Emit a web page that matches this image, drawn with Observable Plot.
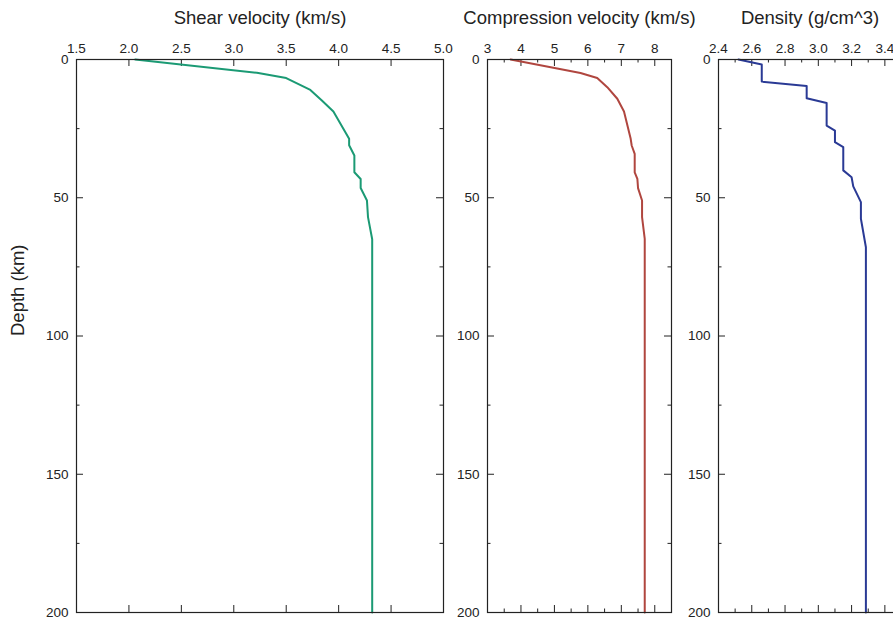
<!DOCTYPE html>
<html><head><meta charset="utf-8">
<script src="https://cdn.jsdelivr.net/npm/d3@7"></script>
<script src="https://cdn.jsdelivr.net/npm/@observablehq/plot@0.6"></script>
<style>
body{margin:0;background:#fff;}
#wrap{position:relative;width:893px;height:621px;overflow:hidden;font-family:"Liberation Sans",Arial,sans-serif;}
#wrap svg{position:absolute;top:0;max-width:none;overflow:visible;}
</style></head><body><div id="wrap"></div>
<script>
// Shear velocity profile (km/s) vs depth (km)
const shearDepth = [0, 4.8, 6.7, 11, 14.8, 18.8, 28.7, 31, 34.7, 40.8, 43.2, 46.5, 51, 57, 65, 200];
const shearVel   = [2.06, 3.22, 3.50, 3.73, 3.84, 3.95, 4.10, 4.10, 4.15, 4.15, 4.21, 4.21, 4.27, 4.28, 4.32, 4.32];
// Compression velocity profile (km/s)
const compDepth = [0, 4.9, 6.7, 10, 14.2, 18.8, 28.7, 31.1, 34.1, 40.8, 43.2, 46.5, 51, 57, 64.9, 200];
const compVel   = [3.69, 5.78, 6.28, 6.58, 6.88, 7.08, 7.28, 7.31, 7.40, 7.40, 7.48, 7.50, 7.62, 7.62, 7.70, 7.70];
// Density profile (g/cm^3)
const densDepth = [0, 1.8, 8.0, 9.6, 14, 15.7, 23.9, 25.7, 29.9, 31.7, 40.1, 42.6, 45.9, 51.6, 57.6, 67.9, 200];
const densVal   = [2.52, 2.66, 2.66, 2.93, 2.93, 3.05, 3.05, 3.10, 3.10, 3.15, 3.15, 3.20, 3.21, 3.256, 3.256, 3.286, 3.286];

// Tick labels / positions
const depthMajor = [0, 50, 100, 150, 200];
const depthMinor = [25, 75, 125, 175];
const shearMajor = [1.5, 2.0, 2.5, 3.0, 3.5, 4.0, 4.5, 5.0];
const shearMinor = [];
const compMajor = [3, 4, 5, 6, 7, 8];
const compMinor = [3.5, 4.5, 5.5, 6.5, 7.5, 8.5];
const densMajor = [2.4, 2.6, 2.8, 3.0, 3.2, 3.4];
const densMinor = [2.5, 2.7, 2.9, 3.1, 3.3, 3.5];

const titles = ["Shear velocity (km/s)", "Compression velocity (km/s)", "Density (g/cm^3)"];
const yTitle = "Depth (km)";

const H = 621, MT = 59, MB = 9;
const plotH = H - MT - MB;
const ink = "#222";

function panel({left, width, mL, mR, domain, major, minor, fmt, title, depths, values, color, ylabel}) {
  const plotW = width - mL - mR;
  const data = depths.map((d, i) => ({d, v: values[i]}));
  const marks = [
    Plot.tickX(major, {x: d => d, insetBottom: plotH - 7, stroke: ink}),
    Plot.tickX(major, {x: d => d, insetTop: plotH - 7, stroke: ink}),
    Plot.tickX(minor, {x: d => d, insetBottom: plotH - 3.5, stroke: ink}),
    Plot.tickX(minor, {x: d => d, insetTop: plotH - 3.5, stroke: ink}),
    Plot.tickY(depthMajor, {y: d => d, insetRight: plotW - 7, stroke: ink}),
    Plot.tickY(depthMajor, {y: d => d, insetLeft: plotW - 7, stroke: ink}),
    Plot.tickY(depthMinor, {y: d => d, insetRight: plotW - 3.5, stroke: ink}),
    Plot.tickY(depthMinor, {y: d => d, insetLeft: plotW - 3.5, stroke: ink}),
    Plot.axisX({anchor: "top", ticks: major, tickSize: 0, tickPadding: 7, tickFormat: fmt, label: null, fill: ink, fontSize: 13.5}),
    Plot.axisY({anchor: "left", ticks: depthMajor, tickSize: 0, tickPadding: 8, tickFormat: d => String(d), label: null, fill: ink, fontSize: 13.5}),
    Plot.line(data, {x: "v", y: "d", stroke: color, strokeWidth: 2}),
    Plot.frame({stroke: ink, strokeWidth: 1.2}),
    Plot.text([title], {text: d => d, frameAnchor: "top", lineAnchor: "bottom", dy: -36, fontSize: 18.5, fill: ink})
  ];
  if (ylabel) {
    marks.push(Plot.text([ylabel], {text: d => d, frameAnchor: "left", rotate: -90, dx: -58, fontSize: 18.5, fill: ink}));
  }
  const svg = Plot.plot({
    width, height: H,
    marginLeft: mL, marginRight: mR, marginTop: MT, marginBottom: MB,
    style: {fontFamily: '"Liberation Sans", Arial, sans-serif', fontSize: "13.5px", background: "transparent", overflow: "visible"},
    x: {domain, axis: null},
    y: {domain: [0, 200], reverse: true, axis: null},
    marks
  });
  svg.style.left = left + "px";
  document.getElementById("wrap").appendChild(svg);
}

const f1 = d3.format(".1f");
panel({left: 0, width: 452, mL: 76, mR: 9, domain: [1.5, 5.0], major: shearMajor, minor: shearMinor, fmt: f1,
  title: titles[0], depths: shearDepth, values: shearVel, color: "#1b9a74", ylabel: yTitle});
panel({left: 450, width: 230, mL: 37, mR: 9, domain: [3, 8.5], major: compMajor, minor: compMinor, fmt: d => String(d),
  title: titles[1], depths: compDepth, values: compVel, color: "#b0463f"});
panel({left: 680, width: 230, mL: 38, mR: 9, domain: [2.4, 3.5], major: densMajor, minor: densMinor, fmt: f1,
  title: titles[2], depths: densDepth, values: densVal, color: "#2a3a95"});
</script></body></html>
